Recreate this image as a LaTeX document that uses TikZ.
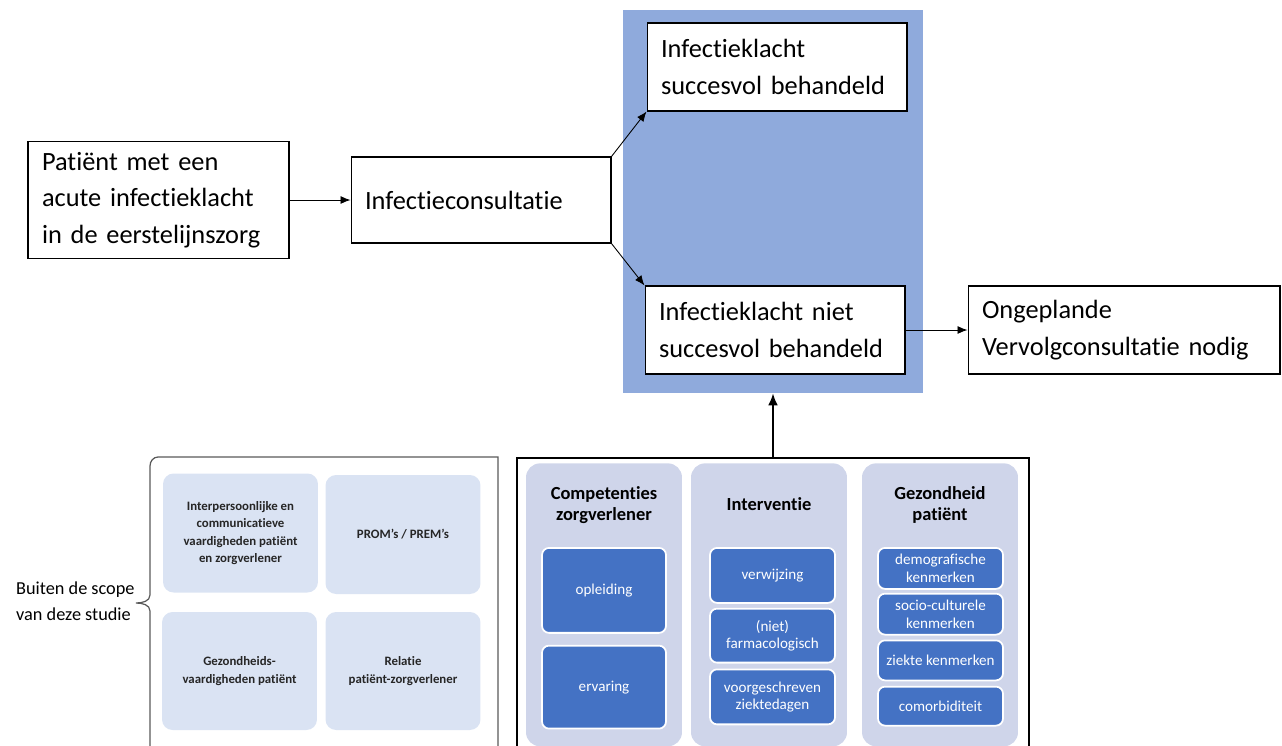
\documentclass[tikz,border=0pt]{standalone}
\usepackage{fontspec}
\setmainfont{Carlito}[Ligatures={NoCommon,NoContextual}, RawFeature={-liga;-clig;-calt}]
\usetikzlibrary{arrows.meta, positioning}
\definecolor{scopeblue}{HTML}{8FAADC}
\definecolor{lanegrey}{HTML}{CFD5EA}
\definecolor{itemblue}{HTML}{4472C4}
\definecolor{paleblue}{HTML}{DAE3F3}
\definecolor{bracegrey}{HTML}{595959}

\begin{document}
\begin{tikzpicture}[x=0.02cm, y=-0.02cm,
    flow/.style={draw, fill=white, line width=0.6pt, align=left,
                 inner xsep=0.28cm, inner ysep=0pt, minimum height=1.76cm,
                 text width=4.64cm, font=\fontsize{15}{20.8}\selectfont},
    arr/.style={-{Latex[length=2mm, width=1.6mm]}, line width=0.5pt},
    lane/.style={fill=lanegrey, rounded corners=8pt, minimum width=3.12cm,
                 minimum height=5.66cm, anchor=north},
    head/.style={align=center, font=\fontsize{10.5}{12}\selectfont\bfseries},
    item/.style={draw=white, line width=1pt, fill=itemblue, text=white,
                 rounded corners=4pt, align=center, minimum width=2.5cm,
                 inner ysep=1pt, font=\fontsize{8.6}{9.9}\selectfont},
    other/.style={fill=paleblue, rounded corners=6pt, minimum width=3.1cm,
                  minimum height=2.38cm, align=center, text=black!85,
                  font=\fontsize{7.3}{10}\selectfont\bfseries}
  ]
  \useasboundingbox (0,0) rectangle (1282,745);

  % course of the complaint
  \node[fill=scopeblue, minimum width=6cm, minimum height=7.66cm] (scope) at (773,201.5) {};
  \node[flow, text width=4.66cm, minimum height=2.34cm] (pat) at (158.5,200) {Patiënt met een\\acute infectieklacht\\in de eerstelijnszorg};
  \node[flow, minimum height=1.72cm] (cons) at (481,200) {Infectieconsultatie};
  \node[flow] (succ) at (777,67) {Infectieklacht\\succesvol behandeld};
  \node[flow] (niet) at (775,330) {Infectieklacht niet\\succesvol behandeld};
  \node[flow, text width=5.68cm] (onge) at (1124,330) {Ongeplande\\Vervolgconsultatie nodig};

  \draw[arr] (pat) -- (cons);
  \draw[arr] (cons.north east) -- (succ.south west);
  \draw[arr] (cons.south east) -- (niet.north west);
  \draw[arr] (niet) -- (onge);

  % factors
  \node[draw, line width=1.2pt, minimum width=10.24cm, minimum height=6cm, anchor=north] (frame) at (773,457) {};
  \draw[line width=1.3pt, -{Latex[length=2.4mm, width=2mm]}] (frame.north) -- (scope.south);

  \node[lane] (c1) at (604,463) {};
  \node[lane] (c2) at (769,463) {};
  \node[lane] (c3) at (940,463) {};
  \node[head] (h1) at (604,505) {Competenties\\zorgverlener};
  \node[head] (h2) at (769,504) {Interventie};
  \node[head] (h3) at (940,505) {Gezondheid\\patiënt};

  \node[item, minimum width=2.48cm, minimum height=1.7cm, anchor=north] (opl) at (604,547) {opleiding};
  \node[item, minimum width=2.48cm, minimum height=1.66cm, below=0.22cm of opl] (erv) {ervaring};

  \node[item, minimum height=1.1cm, anchor=north] (verw) at (772.5,547) {verwijzing};
  \node[item, minimum height=1.08cm, below=0.08cm of verw] (farm) {(niet)\\farmacologisch};
  \node[item, minimum height=1.1cm, below=0.1cm of farm] (ziek) {voorgeschreven\\ziektedagen};

  \node[item, minimum height=0.82cm, anchor=north] (demo) at (940.5,547) {demografische\\kenmerken};
  \node[item, minimum height=0.82cm, below=0.06cm of demo] (soc) {socio-culturele\\kenmerken};
  \node[item, minimum height=0.8cm, below=0.08cm of soc] (kenm) {ziekte kenmerken};
  \node[item, minimum height=0.78cm, below=0.09cm of kenm] (comor) {comorbiditeit};

  % outside the scope
  \draw[bracegrey, line width=0.7pt] (498,760) -- (498,457) -- (158,457)
    to[out=180, in=90] (150,466) -- (150,595)
    to[out=-90, in=0] (136,603) to[out=0, in=90] (150,611) -- (150,760);
  \node[anchor=west, align=left, font=\fontsize{10.4}{14.8}\selectfont] (buiten) at (10,601) {Buiten de scope\\van deze studie};

  \node[other] (inter) at (240.5,533) {Interpersoonlijke en\\communicatieve\\vaardigheden patiënt\\en zorgverlener};
  \node[other] (prom) at (403,534.5) {PROM’s / PREM’s};
  \node[other, minimum height=2.36cm] (gezv) at (239.5,671) {Gezondheids-\\vaardigheden patiënt};
  \node[other, minimum height=2.36cm] (rel) at (403,671) {Relatie\\patiënt-zorgverlener};
\end{tikzpicture}
\end{document}
